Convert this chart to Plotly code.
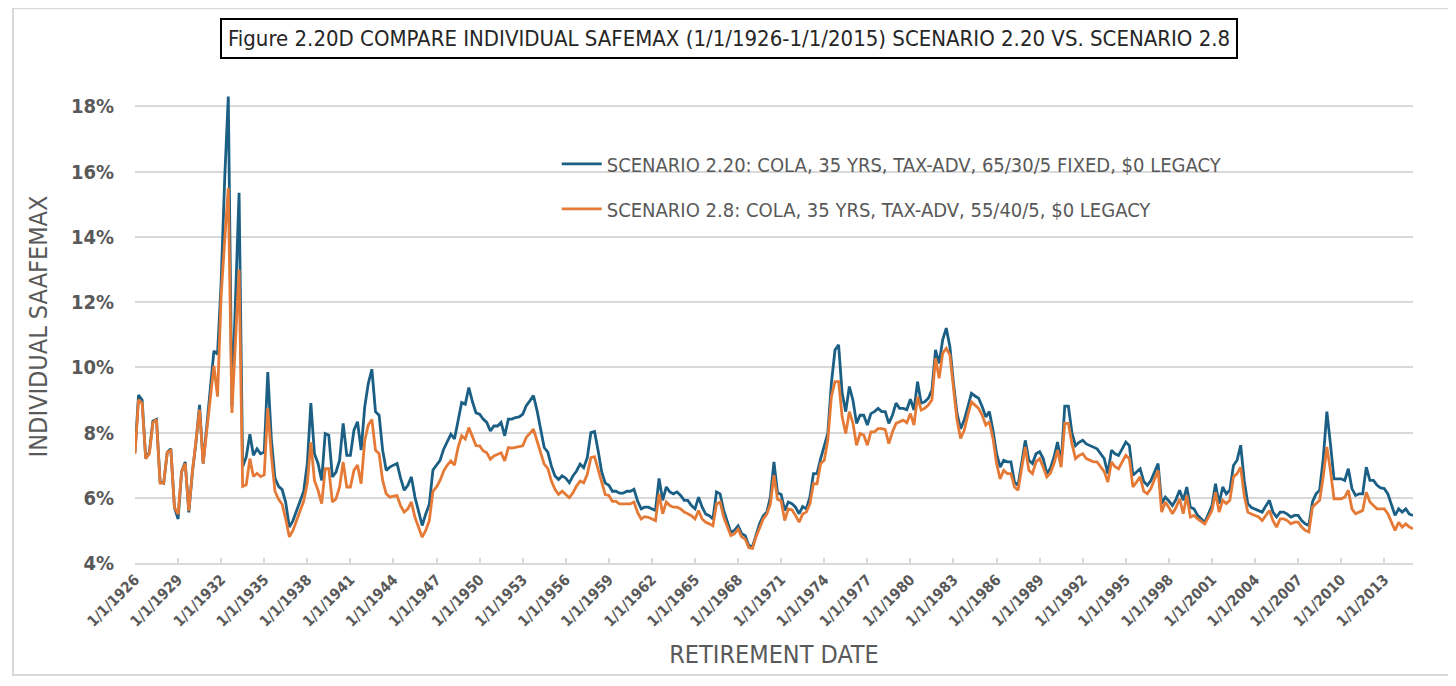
import pandas as pd
import plotly.graph_objects as go

# quarterly safemax readings, one row per year, 1/1/1926 .. 1/1/2015
scenario_220 = [
    7.4, 9.15, 9.0, 7.2,  7.4, 8.35, 8.4, 6.5,  6.45, 7.4, 7.5, 5.7,  5.35, 6.8, 7.1, 5.55,
    6.8, 7.7, 8.85, 7.05,  8.2, 9.4, 10.5, 10.4,  12.6, 15.8, 18.3, 8.8,  11.8, 15.35, 6.95, 7.25,
    7.95, 7.3, 7.5, 7.35,  7.4, 9.85, 7.8, 6.6,  6.35, 6.25, 5.85, 5.1,  5.3, 5.6, 5.9, 6.2,
    7.05, 8.9, 7.35, 7.05,  6.53, 7.97, 7.92, 6.64,  6.79, 7.15, 8.28, 7.3,  7.3, 8.07, 8.33, 7.46,
    8.79, 9.5, 9.94, 8.64,  8.53, 7.46, 6.84, 6.94,  7.0, 7.05, 6.6, 6.23,  6.38, 6.64, 6.02, 5.6,
    5.15, 5.5, 5.8, 6.85,  7.0, 7.15, 7.49, 7.7,  7.95, 7.8, 8.36, 8.92,  8.87, 9.38, 8.95, 8.6,
    8.56, 8.41, 8.31, 8.05,  8.2, 8.2, 8.31, 7.9,  8.41, 8.41, 8.46, 8.48,  8.56, 8.82, 8.97, 9.13,
    8.67, 8.15, 7.54, 7.4,  6.97, 6.67, 6.56, 6.67,  6.6, 6.46, 6.67, 6.82,  7.03, 6.92, 7.23, 8.0,
    8.03, 7.46, 6.8, 6.45,  6.38, 6.2, 6.2, 6.14,  6.14, 6.2, 6.2, 6.26,  5.9, 5.66, 5.71, 5.71,
    5.65, 5.61, 6.59, 5.92,  6.33, 6.18, 6.12, 6.18,  6.07, 5.92, 5.92, 5.76,  5.66, 6.02, 5.71, 5.5,
    5.45, 5.35, 6.18, 6.12,  5.6, 5.3, 4.94, 5.0,  5.14, 4.9, 4.84, 4.53,  4.5, 4.85, 5.2, 5.45,
    5.56, 6.02, 7.1, 6.15,  6.1, 5.61, 5.87, 5.82,  5.71, 5.51, 5.73, 5.66,  6.02, 6.74, 6.74, 7.2,
    7.61, 7.97, 9.51, 10.53,  10.69, 9.2, 8.64, 9.41,  8.99, 8.28, 8.53, 8.53,  8.23, 8.58, 8.64, 8.74,
    8.64, 8.64, 8.28, 8.53,  8.9, 8.74, 8.74, 8.7,  9.02, 8.69, 9.56, 8.9,  8.94, 9.05, 9.3, 10.53,
    10.12, 10.84, 11.2, 10.64,  9.51, 8.58, 8.12, 8.38,  8.79, 9.2, 9.12, 9.05,  8.79, 8.48, 8.64, 8.07,
    7.35, 6.94, 7.15, 7.1,  7.1, 6.48, 6.38, 7.05,  7.76, 7.15, 7.05, 7.35,  7.41, 7.2, 6.74, 6.9,
    7.25, 7.71, 7.05, 8.81,  8.81, 8.0, 7.6, 7.7,  7.76, 7.65, 7.6, 7.55,  7.5, 7.35, 7.2, 6.74,
    7.46, 7.35, 7.3, 7.5,  7.71, 7.6, 6.69, 6.79,  6.89, 6.5, 6.38, 6.53,  6.8, 7.05, 5.82, 6.02,
    5.9, 5.76, 5.95, 6.23,  5.92, 6.33, 5.71, 5.66,  5.46, 5.35, 5.25, 5.5,  5.76, 6.43, 5.82, 6.33,
    6.12, 6.23, 6.99, 7.15,  7.61, 6.53, 5.82, 5.7,  5.66, 5.61, 5.56, 5.75,  5.92, 5.56, 5.41, 5.56,
    5.56, 5.5, 5.41, 5.46,  5.46, 5.3, 5.2, 5.15,  5.87, 6.12, 6.23, 7.2,  8.64, 7.66, 6.58, 6.58,
    6.58, 6.53, 6.89, 6.28,  6.07, 6.12, 6.12, 6.94,  6.53, 6.53, 6.38, 6.3,  6.28, 6.12, 5.76, 5.46,
    5.66, 5.56, 5.66, 5.5,  5.46,
]

scenario_28 = [
    7.35, 9.0, 8.9, 7.2,  7.35, 8.3, 8.4, 6.45,  6.45, 7.4, 7.45, 5.7,  5.5, 6.8, 7.05, 5.6,
    6.8, 7.7, 8.7, 7.05,  8.1, 9.0, 10.05, 9.1,  12.2, 13.9, 15.5, 8.6,  11.0, 13.0, 6.35, 6.4,
    7.2, 6.65, 6.75, 6.65,  6.7, 8.75, 7.3, 6.2,  5.95, 5.8, 5.35, 4.8,  5.0, 5.3, 5.6, 5.9,
    6.45, 7.7, 6.53, 6.23,  5.82, 6.89, 6.89, 5.87,  5.97, 6.33, 7.1, 6.33,  6.33, 6.84, 7.0, 6.43,
    7.76, 8.23, 8.4, 7.46,  7.35, 6.53, 6.12, 6.02,  6.05, 6.07, 5.75, 5.56,  5.66, 5.87, 5.4, 5.1,
    4.79, 5.0, 5.3, 6.2,  6.33, 6.53, 6.82, 7.0,  7.13, 7.0, 7.54, 7.9,  7.8, 8.15, 7.85, 7.6,
    7.59, 7.44, 7.38, 7.18,  7.28, 7.33, 7.38, 7.13,  7.54, 7.52, 7.54, 7.56,  7.59, 7.85, 7.97, 8.1,
    7.74, 7.38, 7.03, 6.9,  6.51, 6.26, 6.1, 6.2,  6.1, 6.0, 6.15, 6.36,  6.51, 6.46, 6.72, 7.23,
    7.26, 6.87, 6.43, 6.1,  6.07, 5.89, 5.89, 5.81,  5.81, 5.81, 5.81, 5.87,  5.55, 5.35, 5.42, 5.4,
    5.35, 5.3, 6.12, 5.51,  5.87, 5.76, 5.71, 5.71,  5.66, 5.56, 5.51, 5.45,  5.35, 5.61, 5.35, 5.25,
    5.2, 5.14, 5.81, 5.87,  5.4, 5.14, 4.84, 4.9,  5.04, 4.8, 4.73, 4.47,  4.45, 4.8, 5.1, 5.35,
    5.5, 5.8, 6.69, 5.95,  5.9, 5.3, 5.66, 5.63,  5.46, 5.25, 5.5, 5.56,  5.81, 6.43, 6.43, 7.05,
    7.15, 7.76, 9.1, 9.56,  9.56, 8.48, 7.97, 8.64,  8.28, 7.61, 7.97, 7.92,  7.61, 8.02, 8.02, 8.12,
    8.12, 8.09, 7.66, 8.02,  8.28, 8.33, 8.38, 8.3,  8.58, 8.23, 9.1, 8.69,  8.74, 8.84, 9.0, 10.28,
    9.66, 10.43, 10.58, 10.38,  9.3, 8.38, 7.82, 8.07,  8.53, 8.94, 8.84, 8.74,  8.53, 8.23, 8.33, 7.82,
    7.05, 6.58, 6.84, 6.74,  6.74, 6.33, 6.23, 6.84,  7.56, 6.84, 6.74, 7.1,  7.2, 6.94, 6.64, 6.75,
    7.05, 7.46, 6.94, 8.28,  8.28, 7.66, 7.2, 7.3,  7.35, 7.2, 7.15, 7.1,  7.1, 6.95, 6.8, 6.48,
    7.1, 6.95, 6.89, 7.1,  7.3, 7.2, 6.33, 6.48,  6.64, 6.2, 6.12, 6.28,  6.55, 6.84, 5.56, 5.87,
    5.7, 5.51, 5.7, 5.97,  5.51, 6.07, 5.41, 5.46,  5.35, 5.28, 5.2, 5.4,  5.61, 6.17, 5.56, 5.92,
    5.82, 5.92, 6.64, 6.74,  6.94, 6.07, 5.56, 5.5,  5.46, 5.41, 5.3, 5.45,  5.61, 5.3, 5.1, 5.35,
    5.35, 5.3, 5.2, 5.25,  5.25, 5.1, 5.0, 4.95,  5.71, 5.82, 5.92, 6.64,  7.56, 6.84, 5.97, 5.97,
    5.97, 6.02, 6.23, 5.66,  5.51, 5.56, 5.61, 6.17,  5.87, 5.76, 5.66, 5.66,  5.66, 5.51, 5.25, 5.0,
    5.25, 5.1, 5.2, 5.1,  5.05,
]

tick_years = list(range(1926, 2014, 3))
y_ticks = [4, 6, 8, 10, 12, 14, 16, 18]

names = [
    "SCENARIO 2.20: COLA, 35 YRS, TAX-ADV, 65/30/5 FIXED, $0 LEGACY",
    "SCENARIO 2.8: COLA, 35 YRS, TAX-ADV, 55/40/5, $0 LEGACY",
]

BLUE = "#1b5f84"
ORANGE = "#e57a37"
GRAY = "#595959"
GRID = "#d9d9d9"
NARROW = "Liberation Sans Narrow, Arial Narrow, DejaVu Sans Condensed, sans-serif"

dates = pd.date_range("1926-01-01", periods=len(scenario_220), freq="QS")

fig = go.Figure()
fig.add_trace(go.Scatter(x=dates, y=scenario_220, mode="lines", name=names[0],
                         legendgroup="a", line=dict(color=BLUE, width=2.8)))
fig.add_trace(go.Scatter(x=dates, y=scenario_28, mode="lines", name=names[1],
                         legendgroup="b", line=dict(color=ORANGE, width=2.8)))

# the page body adds 8px, so the figure is a bit smaller than the window
fig.update_layout(
    width=1448, height=678,
    margin=dict(l=127, r=43, t=82, b=123),
    paper_bgcolor="white", plot_bgcolor="white",
    font=dict(family=NARROW, color=GRAY),
    showlegend=True,
    legend=dict(x=0.33, y=0.885, xanchor="left", yanchor="top",
                bgcolor="rgba(0,0,0,0)", font=dict(size=20, color=GRAY),
                tracegroupgap=16, itemwidth=40),
    shapes=[dict(type="rect", xref="paper", yref="paper",
                 x0=-0.0955, x1=1.029, y0=-0.237, y1=1.173,
                 line=dict(color=GRID, width=2))],
    annotations=[dict(
        text="Figure 2.20D COMPARE INDIVIDUAL SAFEMAX (1/1/1926-1/1/2015) SCENARIO 2.20 VS. SCENARIO 2.8",
        xref="paper", yref="paper", x=0.4644, y=1.109, xanchor="center", yanchor="middle",
        showarrow=False,
        font=dict(size=22, color="#262626", family=NARROW),
        bordercolor="black", borderwidth=2, borderpad=6, bgcolor="white")],
)

fig.update_xaxes(
    type="date", automargin=False,
    range=["1926-01-01", "2015-01-01"],
    tickvals=[f"{y}-01-01" for y in tick_years],
    ticktext=[f"1/1/{y}" for y in tick_years],
    tickangle=-45,
    tickfont=dict(size=15, color=GRAY, weight="bold"),
    showgrid=False, showline=True, linecolor=GRID, linewidth=2,
    ticks="inside", ticklen=5, tickcolor=GRID, tickwidth=1.5,
    title=dict(text="RETIREMENT DATE", font=dict(size=25, color=GRAY), standoff=16),
)
fig.update_yaxes(
    range=[4, 18.5], automargin=False,
    tickvals=y_ticks,
    ticktext=[f"{v}%" for v in y_ticks],
    tickfont=dict(size=20, color=GRAY, weight="bold"),
    showgrid=True, gridcolor=GRID, gridwidth=1.5,
    zeroline=False, showline=False, ticks="", ticklabelstandoff=20,
    title=dict(text="INDIVIDUAL SAAFEMAX", font=dict(size=25, color=GRAY), standoff=16),
)

fig.write_html("out.html")
